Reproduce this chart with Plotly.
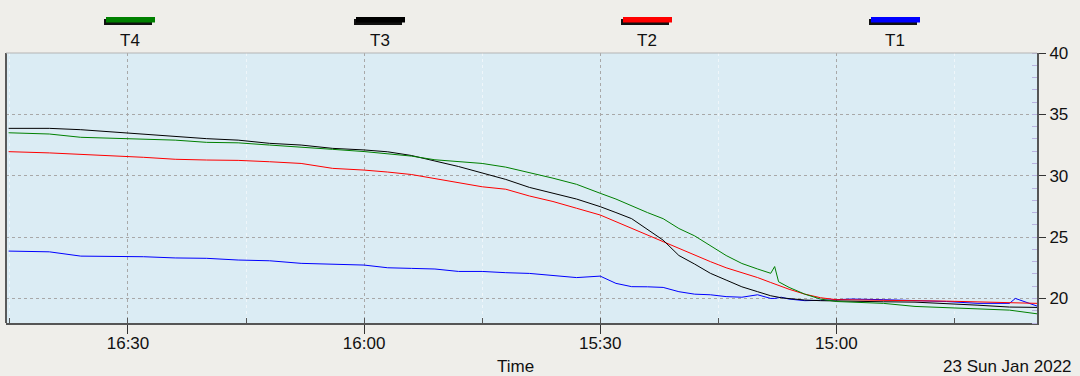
import plotly.graph_objects as go

# ---------------- data ----------------
DAY = "2022-01-23 "
times = ["14:34:30", "14:37:15", "14:38:00", "14:42:00", "14:46:00", "14:50:00", "14:54:00", "14:58:00",
         "15:00:00", "15:02:00", "15:04:00", "15:06:00", "15:07:00", "15:07:20", "15:07:50", "15:08:20",
         "15:10:00", "15:12:00", "15:14:00", "15:16:00", "15:18:00", "15:20:00", "15:22:00", "15:24:00",
         "15:26:00", "15:28:00", "15:30:00", "15:33:00", "15:36:00", "15:39:00", "15:42:00", "15:45:00",
         "15:48:00", "15:51:00", "15:54:00", "15:57:00", "16:00:00", "16:04:00", "16:08:00", "16:12:00",
         "16:16:00", "16:20:00", "16:24:00", "16:28:00", "16:32:00", "16:36:00", "16:40:00", "16:45:10"]

t1 = [19.38, 20.0, 19.6, 19.6, 19.75, 19.85, 19.9, 19.95, 19.93, 19.85, 19.82, 19.95, 20.1, 20.05, 20.0, 20.0,
      20.3, 20.1, 20.15, 20.3, 20.35, 20.55, 20.9, 20.95, 20.96, 21.23, 21.82, 21.7, 21.9, 22.04, 22.1, 22.2,
      22.2, 22.4, 22.45, 22.5, 22.72, 22.8, 22.86, 23.07, 23.13, 23.27, 23.3, 23.4, 23.4, 23.45, 23.8, 23.86]

t2 = [19.6, 19.65, 19.7, 19.72, 19.78, 19.82, 19.85, 19.87, 19.9, 20.06, 20.35, 20.75, 21.0, 21.1, 21.2, 21.3,
      21.7, 22.1, 22.5, 23.0, 23.55, 24.05, 24.6, 25.2, 25.75, 26.3, 26.8, 27.35, 27.9, 28.35, 28.9, 29.1,
      29.45, 29.8, 30.1, 30.3, 30.46, 30.6, 31.0, 31.14, 31.25, 31.28, 31.34, 31.5, 31.62, 31.8, 31.86, 31.96]

t3 = [19.27, 19.3, 19.3, 19.45, 19.6, 19.7, 19.73, 19.75, 19.78, 19.82, 19.87, 19.97, 20.05, 20.1, 20.15, 20.22,
      20.55, 20.95, 21.5, 22.05, 22.8, 23.5, 24.75, 25.65, 26.5, 27.0, 27.48, 28.1, 28.55, 29.05, 29.7, 30.25,
      30.75, 31.2, 31.65, 31.95, 32.1, 32.23, 32.5, 32.64, 32.9, 33.02, 33.2, 33.42, 33.57, 33.75, 33.86, 33.86]

t4 = [18.75, 19.0, 19.05, 19.15, 19.22, 19.35, 19.6, 19.72, 19.75, 19.95, 20.35, 20.9, 21.2, 21.36, 22.6, 22.05,
      22.4, 22.85, 23.5, 24.3, 25.1, 25.7, 26.5, 27.0, 27.55, 28.1, 28.57, 29.3, 29.8, 30.25, 30.7, 31.0,
      31.15, 31.3, 31.6, 31.8, 31.97, 32.15, 32.3, 32.5, 32.68, 32.72, 32.9, 32.97, 33.05, 33.13, 33.4, 33.5]

series_names = ["T1", "T2", "T3", "T4"]
series_values = [t1, t2, t3, t4]
series_colors = ["#0000ff", "#ff0000", "#000000", "#008000"]

y_ticks = [20, 25, 30, 35, 40]
x_title = "Time"
date_label = "23 Sun Jan 2022"

# ---------------- figure ----------------
W, H = 1080, 376
ML, MR, MT, MB = 6, 43, 53, 53
PW, PH = W - ML - MR, H - MT - MB


def px(xp):
    return (xp - ML) / PW


def py(yp):
    return (H - MB - yp) / PH


x_dates = [DAY + t for t in times]
fig = go.Figure()
for name, vals, col in zip(series_names, series_values, series_colors):
    fig.add_trace(go.Scatter(x=x_dates, y=vals, mode="lines", name=name,
                             line=dict(color=col, width=1), showlegend=False))

FONT = "Liberation Sans, Arial, sans-serif"

shapes = []
annotations = []
# custom legend: coloured bar above each label
legend_centers = {"T4": 130, "T3": 380, "T2": 647, "T1": 895}
for name, col in zip(series_names, series_colors):
    c = legend_centers[name]
    shapes.append(dict(type="rect", xref="paper", yref="paper",
                       x0=px(c - 26), x1=px(c + 22), y0=py(25), y1=py(19),
                       fillcolor="#111111", line=dict(width=0)))
    shapes.append(dict(type="rect", xref="paper", yref="paper",
                       x0=px(c - 24), x1=px(c + 25), y0=py(22.5), y1=py(17),
                       fillcolor=col, line=dict(width=0)))
    annotations.append(dict(text=name, xref="paper", yref="paper", x=px(c), y=py(40),
                            xanchor="center", yanchor="middle", showarrow=False,
                            font=dict(family=FONT, size=17, color="#111")))

# frame: left dark border, light top border
shapes.append(dict(type="line", xref="paper", yref="paper", x0=0, x1=0, y0=0, y1=1,
                   line=dict(color="#5a5a5a", width=2)))
shapes.append(dict(type="line", xref="paper", yref="paper", x0=0, x1=1, y0=1, y1=1,
                   line=dict(color="#b4b4b4", width=1)))

annotations.append(dict(text=x_title, xref="paper", yref="paper", x=px(515), y=py(366),
                        xanchor="center", yanchor="middle", showarrow=False,
                        font=dict(family=FONT, size=17, color="#111")))
annotations.append(dict(text=date_label, xref="paper", yref="paper", x=px(1074), y=py(366),
                        xanchor="right", yanchor="middle", showarrow=False,
                        font=dict(family=FONT, size=17, color="#111")))

fig.update_layout(
    width=W, height=H,
    margin=dict(l=ML, r=MR, t=MT, b=MB, pad=0),
    paper_bgcolor="#efeeea",
    plot_bgcolor="#dbecf4",
    font=dict(family=FONT, size=17, color="#111"),
    showlegend=False,
    shapes=shapes,
    annotations=annotations,
    xaxis=dict(
        type="date",
        range=[DAY + "16:45:30", DAY + "14:34:30"],
        tick0=DAY + "15:00:00", dtick=30 * 60 * 1000,
        tickformat="%H:%M",
        ticks="outside", ticklen=9, tickcolor="#333", tickwidth=1,
        ticklabelstandoff=-5,
        showline=True, linecolor="#555", linewidth=2,
        showgrid=True, gridcolor="#a8a8a8", griddash="dot", gridwidth=1,
        zeroline=False,
        tickfont=dict(family=FONT, size=17, color="#111"),
        minor=dict(dtick=15 * 60 * 1000, tick0=DAY + "15:00:00", ticks="inside", ticklen=5,
                   tickcolor="#555", showgrid=True, gridcolor="rgba(255,255,255,0.55)", gridwidth=1),
    ),
    yaxis=dict(
        side="right",
        range=[18, 40],
        tickvals=y_ticks,
        ticks="outside", ticklen=7, tickcolor="#333",
        showline=True, linecolor="#555", linewidth=2,
        showgrid=True, gridcolor="#a8a8a8", griddash="dot", gridwidth=1,
        zeroline=False,
        tickfont=dict(family=FONT, size=17, color="#111"),
        minor=dict(dtick=1, ticks="inside", ticklen=5, tickcolor="#b9b2df", showgrid=False),
    ),
)

fig.write_html("out.html",
               config={"displayModeBar": False},
               post_script="document.body.style.margin='0';document.body.style.overflow='hidden';"
                           "document.body.style.background='#efeeea';")
